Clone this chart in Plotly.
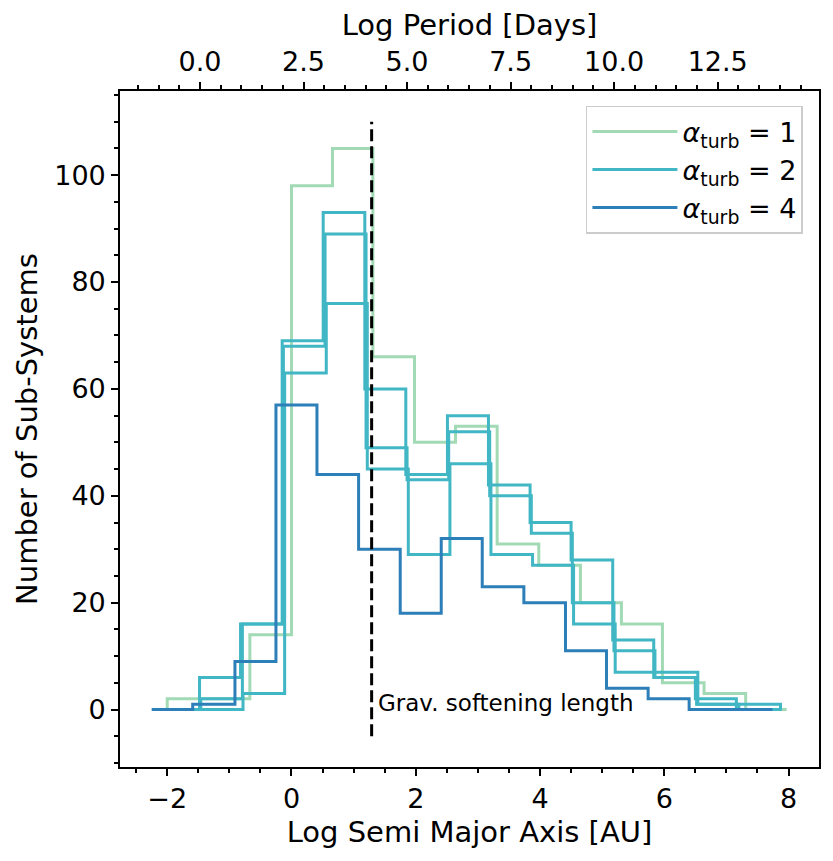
import plotly.graph_objects as go

# bin edges and counts
green_edges = [-2.0, -1.34, -0.67, 0.0, 0.66, 1.31, 1.98, 2.64, 3.31, 3.98, 4.65, 5.31, 5.97, 6.64, 7.31, 7.97]
green_counts = [2, 2, 14, 98, 105, 66, 50, 53, 31, 27, 20, 16, 5, 3, 0]

teal_edges_a = [-2.14, -1.48, -0.82, -0.15, 0.51, 1.18, 1.84, 2.51, 3.17, 3.84, 4.50, 5.17, 5.83, 6.50, 7.16, 7.83]
teal_counts_a = [0, 6, 16, 69, 93, 60, 44, 55, 42, 35, 28, 13, 6, 2, 0]

teal_edges_b = [-2.12, -1.46, -0.79, -0.13, 0.54, 1.20, 1.86, 2.53, 3.19, 3.86, 4.52, 5.19, 5.85, 6.52, 7.18, 7.87]
teal_counts_b = [0, 2, 16, 68, 89, 49, 43, 52, 40, 33, 20, 11, 6, 1, 1]

teal_edges_c = [-2.10, -1.44, -0.78, -0.11, 0.56, 1.22, 1.88, 2.55, 3.21, 3.88, 4.54, 5.21, 5.87, 6.54, 7.20, 7.89]
teal_counts_c = [0, 0, 3, 63, 76, 45, 29, 46, 29, 27, 16, 7, 7, 1, 0]

blue_edges = [-2.25, -1.59, -0.91, -0.25, 0.41, 1.08, 1.75, 2.41, 3.07, 3.74, 4.41, 5.07, 5.74, 6.40, 7.07, 7.74]
blue_counts = [0, 1, 9, 57, 44, 30, 18, 32, 23, 20, 11, 4, 2, 0, 0]

soft_x = 1.29
soft_y = [-5, 110]

xrange_bottom = [-2.76, 8.49]
period_offset = 2.21  # log P = 1.5 log a + offset

GREEN = '#a1dab4'
TEAL = '#41b6c4'
BLUE = '#2c7fb8'
FONT = 'DejaVu Sans'


def step_xy(edges, counts):
    # outline like matplotlib histtype='step'
    xs = [edges[0]]
    ys = [0]
    for i, c in enumerate(counts):
        xs += [edges[i], edges[i + 1]]
        ys += [c, c]
    xs.append(edges[-1])
    ys.append(0)
    return xs, ys


series = [
    (green_edges, green_counts, GREEN, '<i>α</i><sub>turb</sub> = 1', True),
    (teal_edges_a, teal_counts_a, TEAL, '<i>α</i><sub>turb</sub> = 2', True),
    (teal_edges_b, teal_counts_b, TEAL, 'run b', False),
    (teal_edges_c, teal_counts_c, TEAL, 'run c', False),
    (blue_edges, blue_counts, BLUE, '<i>α</i><sub>turb</sub> = 4', True),
]

fig = go.Figure()
for edges, counts, col, name, show in series:
    xs, ys = step_xy(edges, counts)
    fig.add_trace(go.Scatter(x=xs, y=ys, mode='lines', name=name, showlegend=show,
                             line=dict(color=col, width=3)))

fig.add_trace(go.Scatter(x=[soft_x, soft_x], y=soft_y, mode='lines', showlegend=False,
                         line=dict(color='black', width=3, dash='12px,5px')))

# empty trace so the period axis on top gets drawn
fig.add_trace(go.Scatter(x=[], y=[], xaxis='x2', showlegend=False, hoverinfo='skip'))

fig.add_annotation(x=soft_x + 0.07, y=1.3, text='Grav. softening length', showarrow=False,
                   xanchor='left', yanchor='middle', font=dict(size=23, color='black', family=FONT))

axis_common = dict(showgrid=False, zeroline=False, showline=True, linecolor='black', linewidth=1.7,
                   ticks='outside', ticklen=7, tickwidth=1.7, tickcolor='black',
                   tickfont=dict(size=27, color='black', family=FONT))

# page body has an 8px margin, so the figure is shifted by that much
fig.update_layout(
    width=825, height=853, autosize=False,
    margin=dict(l=112, r=14, t=80, b=94),
    plot_bgcolor='white', paper_bgcolor='white',
    font=dict(family=FONT, color='black'),
    xaxis=dict(range=xrange_bottom, dtick=2, tick0=0,
               minor=dict(dtick=0.5, ticklen=4, tickwidth=1.7, tickcolor='black', ticks='outside'),
               title=dict(text='Log Semi Major Axis [AU]', font=dict(size=29, color='black', family=FONT), standoff=8),
               **axis_common),
    xaxis2=dict(overlaying='x', side='top', anchor='y',
                range=[1.5 * xrange_bottom[0] + period_offset, 1.5 * xrange_bottom[1] + period_offset],
                dtick=2.5, tick0=0, tickformat='.1f',
                minor=dict(dtick=0.5, ticklen=4, tickwidth=1.7, tickcolor='black', ticks='outside'),
                title=dict(text='Log Period [Days]', font=dict(size=29, color='black', family=FONT), standoff=6),
                **axis_common),
    yaxis=dict(range=[-10.75, 115.75], dtick=20, tick0=0, mirror=True,
               minor=dict(dtick=5, ticklen=4, tickwidth=1.7, tickcolor='black', ticks='outside'),
               title=dict(text='Number of Sub-Systems', font=dict(size=29, color='black', family=FONT), standoff=8),
               **axis_common),
    legend=dict(x=0.977, y=0.978, xanchor='right', yanchor='top', bgcolor='white',
                bordercolor='#cccccc', borderwidth=1.5, font=dict(size=27, color='black', family=FONT),
                tracegroupgap=0, itemwidth=85),
)

fig.write_html('out.html')
